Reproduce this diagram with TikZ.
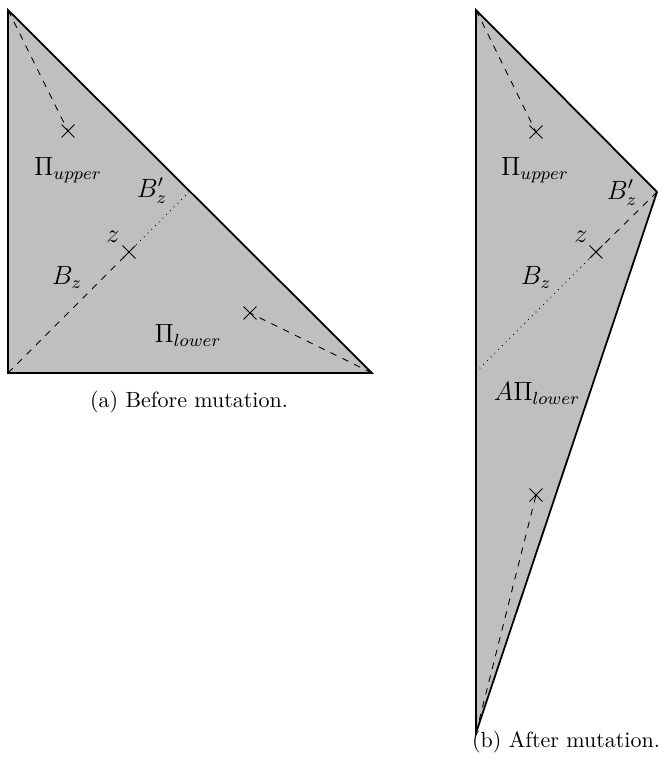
\documentclass[tikz,border=0pt]{standalone}
\usepackage{amsmath,amssymb}
\usepackage{tikz}
\usetikzlibrary{shapes.misc}

\begin{document}
\begin{tikzpicture}[x=0.4545pt, y=-0.4545pt,
    pt/.style={cross out, draw, minimum size=5.5pt, inner sep=0pt, thin},
    lbl/.style={font=\large}]
  \useasboundingbox (0,0) rectangle (663,760);
  % before mutation
  \coordinate (a1) at (8,10);
  \coordinate (a2) at (8,373);
  \coordinate (a3) at (372,373);
  \coordinate (aB) at (190,191);
  \draw[thick,fill=lightgray] (a1) -- (a2) -- (a3) -- cycle;
  \node[pt] (aU) at (68,131) {};
  \node[pt] (aZ) at (129,252) {};
  \node[pt] (aL) at (250,313) {};
  \draw[dashed] (a1) -- (aU.center);
  \draw[dashed] (a2) -- (aZ.center);
  \draw[dotted] (aZ.center) -- (aB);
  \draw[dashed] (a3) -- (aL.center);
  \node[lbl] (aPu) at (68,170) {$\Pi_{upper}$};
  \node[lbl] (aBp) at (152,191) {$B'_z$};
  \node[lbl] (az) at (113,237) {$z$};
  \node[lbl] (aBz) at (67,277) {$B_z$};
  \node[lbl] (aPl) at (188,335) {$\Pi_{lower}$};
  \node (acap) at (189,402) {(a)~Before mutation.};
  % after mutation
  \coordinate (b1) at (476,10);
  \coordinate (b2) at (476,733);
  \coordinate (b3) at (657,192);
  \coordinate (bB) at (476,372);
  \draw[thick,fill=lightgray] (b1) -- (b2) -- (b3) -- cycle;
  \node[pt] (bU) at (536,132) {};
  \node[pt] (bZ) at (596,252) {};
  \node[pt] (bL) at (536,495) {};
  \draw[dashed] (b1) -- (bU.center);
  \draw[dashed] (b3) -- (bZ.center);
  \draw[dotted] (bZ.center) -- (bB);
  \draw[dashed] (b2) -- (bL.center);
  \node[lbl] (bPu) at (535,170) {$\Pi_{upper}$};
  \node[lbl] (bBp) at (622,193) {$B'_z$};
  \node[lbl] (bz) at (581,237) {$z$};
  \node[lbl] (bBz) at (536,277) {$B_z$};
  \node[lbl] (bPl) at (537,393) {$A\Pi_{lower}$};
  \node (bcap) at (566,742) {(b)~After mutation.};
\end{tikzpicture}
\end{document}
